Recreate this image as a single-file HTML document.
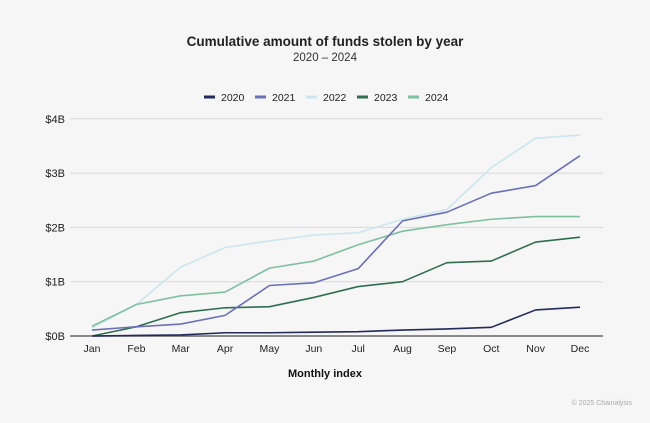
<!DOCTYPE html>
<html><head><meta charset="utf-8"><style>
body{margin:0;background:#f6f6f6;font-family:"Liberation Sans",sans-serif}
svg{display:block}
</style></head><body>
<svg width="650" height="423" viewBox="0 0 650 423">
<rect width="650" height="423" fill="#f6f6f6"/>
<text x="325" y="46" text-anchor="middle" font-size="13.5" font-weight="bold" fill="#222">Cumulative amount of funds stolen by year</text>
<text x="325" y="61" text-anchor="middle" font-size="11.5" fill="#333">2020 – 2024</text>
<g id="legend"></g>
<g id="grid"></g>
<g id="series"></g>
<g id="xaxis"></g>
<text x="325" y="377" text-anchor="middle" font-size="11" font-weight="bold" fill="#111">Monthly index</text>
<text x="632" y="405" text-anchor="end" font-size="7" fill="#aaa">© 2025 Chainalysis</text>
</svg>
<script>
const months=["Jan","Feb","Mar","Apr","May","Jun","Jul","Aug","Sep","Oct","Nov","Dec"];
const yTicks=[0,1,2,3,4];
const yTickLabels=["$0B","$1B","$2B","$3B","$4B"];
const years=["2020","2021","2022","2023","2024"];
const colors=["#232a5c","#6a6fb8","#cde5ee","#2f6e50","#7fc0a0"];
const s2020=[0,0.01,0.02,0.06,0.06,0.07,0.08,0.11,0.13,0.16,0.48,0.53];
const s2021=[0.11,0.17,0.22,0.38,0.93,0.98,1.24,2.12,2.28,2.63,2.77,3.32];
const s2022=[0.15,0.58,1.27,1.63,1.75,1.86,1.9,2.15,2.33,3.1,3.64,3.7];
const s2023=[0,0.17,0.43,0.52,0.54,0.71,0.91,1.0,1.35,1.38,1.73,1.82];
const s2024=[0.18,0.58,0.74,0.81,1.25,1.38,1.68,1.93,2.05,2.15,2.2,2.2];
const NS="http://www.w3.org/2000/svg";
const x=i=>92+i*(580-92)/11;
const y=v=>336-v*54.3;
function mk(tag,attrs,parent){const e=document.createElementNS(NS,tag);for(const k in attrs)e.setAttribute(k,attrs[k]);parent.appendChild(e);return e;}
const grid=document.getElementById('grid');
yTicks.forEach((t,i)=>{
 const l=mk('line',{x1:70,x2:603,y1:y(t),y2:y(t),stroke:t===0?'#666':'#d8d8d8','stroke-width':t===0?1.5:1},grid);
 
 
 const tx=mk('text',{x:65,y:y(t)+4,'text-anchor':'end','font-size':11,fill:'#222'},grid);
 tx.textContent=yTickLabels[i];
 
 
});
const xa=document.getElementById('xaxis');
months.forEach((m,i)=>{
 const t=mk('text',{x:x(i),y:352,'text-anchor':'middle','font-size':10.5,fill:'#222'},xa);
 t.textContent=m;
 
 
});
const data=[s2020,s2021,s2022,s2023,s2024];
const order=[2,4,3,1,0];
const sg=document.getElementById('series');
order.forEach(k=>{
 const p=mk('polyline',{points:data[k].map((v,i)=>x(i)+','+y(v)).join(' '),fill:'none',stroke:colors[k],'stroke-width':1.6,'stroke-linejoin':'round'},sg);
 
 
});
const lg=document.getElementById('legend');
years.forEach((yr,i)=>{
 const bx=204+i*51;
 const r=mk('rect',{x:bx,y:95.5,width:11,height:3,fill:colors[i]},lg);
 
 
 const t=mk('text',{x:bx+17,y:101,'font-size':10.5,fill:'#222'},lg);
 t.textContent=yr;
 
 
});
</script>
</body></html>
